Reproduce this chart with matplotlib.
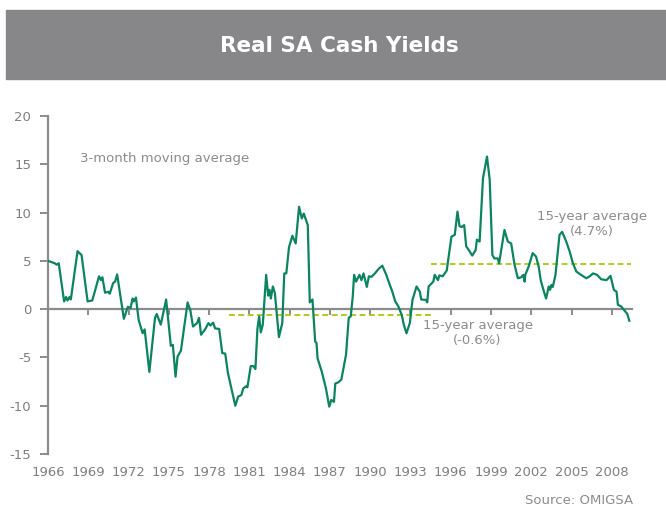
import matplotlib
matplotlib.use('Agg')
import matplotlib.pyplot as plt
from matplotlib.patches import Rectangle

plt.rcParams['axes.unicode_minus'] = False

# Real SA cash yields, 3-month moving average
years = [1966.0, 1966.5, 1966.65, 1966.8, 1967.2, 1967.35, 1967.45, 1967.6, 1967.7,
         1968.2, 1968.5, 1968.95, 1969.3, 1969.8, 1969.95, 1970.05, 1970.25, 1970.5,
         1970.6, 1970.85, 1971.0, 1971.15, 1971.65, 1971.95, 1972.15, 1972.3, 1972.4,
         1972.55, 1972.75, 1973.05, 1973.2, 1973.55, 1973.97, 1974.1, 1974.4, 1974.8,
         1975.15, 1975.3, 1975.5, 1975.65, 1975.9, 1976.4, 1976.6, 1976.8, 1977.1,
         1977.25, 1977.4, 1977.7, 1977.95, 1978.1, 1978.3, 1978.45, 1978.75, 1978.98,
         1979.2, 1979.4, 1979.95, 1980.17, 1980.4, 1980.55, 1980.75, 1980.85, 1981.1,
         1981.3, 1981.45, 1981.6, 1981.73, 1981.85, 1982.0, 1982.25, 1982.4, 1982.5,
         1982.6, 1982.75, 1982.9, 1983.2, 1983.45, 1983.6, 1983.75, 1983.95, 1984.2,
         1984.45, 1984.7, 1984.9, 1985.05, 1985.35, 1985.5, 1985.7, 1985.9, 1986.0,
         1986.08, 1986.4, 1986.7, 1986.95, 1987.1, 1987.3, 1987.4, 1987.6, 1987.85,
         1988.2, 1988.4, 1988.55, 1988.7, 1988.8, 1988.95, 1989.2, 1989.35, 1989.5,
         1989.75, 1989.9, 1990.1, 1990.35, 1990.65, 1990.9, 1991.2, 1991.4, 1991.65,
         1991.85, 1992.1, 1992.35, 1992.5, 1992.7, 1992.95, 1993.15, 1993.45, 1993.7,
         1993.8, 1994.15, 1994.25, 1994.35, 1994.7, 1994.8, 1995.05, 1995.15, 1995.4,
         1995.7, 1995.95, 1996.05, 1996.3, 1996.5, 1996.65, 1996.8, 1997.0, 1997.15,
         1997.35, 1997.6, 1997.85, 1997.95, 1998.15, 1998.4, 1998.7, 1998.9, 1999.1,
         1999.25, 1999.5, 1999.6, 2000.0, 2000.25, 2000.5, 2000.75, 2001.0, 2001.25,
         2001.4, 2001.5, 2001.55, 2001.8, 2002.1, 2002.35, 2002.55, 2002.7, 2002.9,
         2003.1, 2003.3, 2003.4, 2003.5, 2003.6, 2003.8, 2004.1, 2004.3, 2004.6,
         2004.85, 2005.1, 2005.35, 2005.7, 2006.1, 2006.35, 2006.6, 2006.9, 2007.2,
         2007.6, 2007.9, 2008.15, 2008.35, 2008.45, 2008.7, 2008.95, 2009.15, 2009.3]
yields = [5.0, 4.75, 4.6, 4.75, 0.8, 1.25, 0.9, 1.25, 1.0,
          6.0, 5.6, 0.8, 0.9, 3.4, 3.0, 3.3, 1.7, 1.8,
          1.6, 2.7, 2.85, 3.6, -1.0, 0.25, 0.1, 1.1, 0.8,
          1.2, -1.1, -2.5, -2.1, -6.5, -0.9, -0.5, -1.6, 1.0,
          -3.8, -3.7, -7.0, -4.9, -4.3, 0.7, -0.1, -1.8, -1.45,
          -0.9, -2.65, -2.1, -1.45, -1.7, -1.4, -2.0, -2.05, -4.55,
          -4.6, -6.6, -10.0, -9.05, -8.9, -8.2, -8.0, -8.1, -5.9,
          -5.9, -6.2, -2.0, -0.75, -2.4, -1.6, 3.55, 1.4, 2.0,
          1.1, 2.35, 1.65, -2.9, -1.45, 3.7, 3.7, 6.4, 7.6,
          6.8, 10.6, 9.4, 9.9, 8.7, 0.7, 1.0, -3.35, -3.5,
          -5.1, -6.5, -8.2, -10.1, -9.4, -9.6, -7.7, -7.6, -7.3,
          -4.7, -0.9, -0.75, 1.3, 3.55, 2.85, 3.55, 3.0, 3.7,
          2.3, 3.4, 3.35, 3.7, 4.2, 4.5, 3.55, 2.75, 1.8,
          0.86, 0.27, -0.6, -1.6, -2.5, -1.45, 0.96, 2.35, 1.8,
          1.0, 0.96, 0.7, 2.35, 2.85, 3.55, 3.0, 3.5, 3.4,
          4.0, 6.5, 7.5, 7.7, 10.1, 8.6, 8.5, 8.7, 6.5,
          6.1, 5.55, 6.1, 7.2, 7.0, 13.55, 15.8, 13.4, 5.6,
          5.25, 5.25, 4.75, 8.2, 7.0, 6.8, 4.6, 3.2, 3.3,
          3.55, 2.85, 3.55, 4.4, 5.8, 5.45, 4.4, 3.0, 2.0,
          1.1, 2.35, 2.0, 2.5, 2.3, 3.55, 7.7, 8.0, 7.0,
          6.0, 4.75, 3.9, 3.55, 3.2, 3.4, 3.7, 3.55, 3.1,
          3.0, 3.45, 2.0, 1.8, 0.45, 0.27, -0.15, -0.5, -1.2]

# 15-year averages
avg1_span = [1979.5, 1994.5]
avg1_value = -0.6
avg2_span = [1994.5, 2009.4]
avg2_value = 4.7

xticks = list(range(1966, 2009, 3))
yticks = list(range(-15, 21, 5))

grey = '#8c8c8c'
green = '#0b8460'
lime = '#b0cc1a'

fig = plt.figure(figsize=(6.66, 5.08), dpi=100)

# grey title banner
fig.patches.append(Rectangle((6 / 666, 1 - 79 / 508), 660 / 666, 69 / 508,
                             transform=fig.transFigure, color='#87878a', zorder=0))
fig.text(0.51, 1 - 46 / 508, 'Real SA Cash Yields', color='white', fontsize=15.5,
         fontweight='bold', ha='center', va='center')

ax = fig.add_axes([48 / 666, 1 - 454 / 508, 584 / 666, 338 / 508])
ax.plot(years, yields, color=green, linewidth=1.6, zorder=3)
ax.plot(avg1_span, [avg1_value] * 2, color=lime, linestyle=(0, (3, 1.8)), linewidth=1.4, zorder=2)
ax.plot(avg2_span, [avg2_value] * 2, color=lime, linestyle=(0, (3, 1.8)), linewidth=1.4, zorder=2)

ax.set_xlim(1966, 2009.5)
ax.set_ylim(-15, 20)

for s in ['top', 'right']:
    ax.spines[s].set_visible(False)
ax.spines['bottom'].set_position(('data', 0))
ax.spines['bottom'].set_color(grey)
ax.spines['left'].set_color(grey)
ax.spines['bottom'].set_linewidth(1.6)
ax.spines['left'].set_linewidth(1.6)

ax.set_yticks(yticks)
ax.tick_params(axis='y', direction='out', length=6, width=1.4, color=grey,
               labelcolor='#7f7f7f', labelsize=9.5, pad=6)
ax.set_xticks(xticks)
ax.tick_params(axis='x', direction='out', length=4, width=1.4, color=grey, labelbottom=False)

# year labels sit at the bottom of the plot
sec = ax.secondary_xaxis('bottom')
sec.set_xticks(xticks)
sec.spines['bottom'].set_visible(False)
sec.tick_params(length=0, labelcolor='#7f7f7f', labelsize=9.5, pad=9)

ax.text(1968.4, 15.65, '3-month moving average', color=grey, fontsize=9.5, va='center')
ax.text(1998.0, -2.5, '15-year average\n(-0.6%)', color=grey, fontsize=9.5,
        ha='center', va='center', linespacing=1.2)
ax.text(2006.5, 8.8, '15-year average\n(4.7%)', color=grey, fontsize=9.5,
        ha='center', va='center', linespacing=1.2)

fig.text(633 / 666, 1 - 501 / 508, 'Source: OMIGSA', color=grey, fontsize=9.5,
         ha='right', va='center')

fig.savefig('out.png', dpi=100)
